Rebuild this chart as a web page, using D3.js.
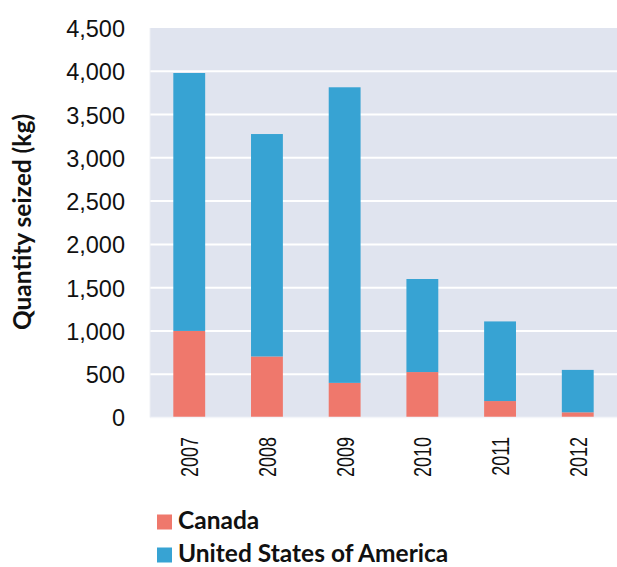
<!DOCTYPE html>
<html>
<head>
<meta charset="utf-8">
<script src="https://cdn.jsdelivr.net/npm/d3@7"></script>
<style>
  html, body { margin: 0; padding: 0; background: #fff; }
  svg { display: block; }
</style>
</head>
<body>
<svg id="chart" width="617" height="567"></svg>
<script>
// Quantity seized (kg) by year, stacked: Canada at the bottom, USA on top
const years = ["2007", "2008", "2009", "2010", "2011", "2012"];
const canada = [1000, 705, 400, 525, 190, 60];
const usa = [2980, 2570, 3415, 1075, 920, 490];
const seriesNames = ["Canada", "United States of America"];
const seriesColors = ["#EF786C", "#37A3D3"];
const yTicks = [0, 500, 1000, 1500, 2000, 2500, 3000, 3500, 4000, 4500];

const svg = d3.select("#chart");
const plot = { left: 150, right: 617, top: 28, bottom: 417.5 };

const x = d3.scaleBand().domain(years).range([plot.left, plot.right]).paddingInner(0.59).paddingOuter(0.3);
const y = d3.scaleLinear().domain([0, 4500]).range([plot.bottom, plot.top]);

// Plot background
svg.append("rect")
  .attr("x", plot.left).attr("y", plot.top)
  .attr("width", plot.right - plot.left).attr("height", plot.bottom - plot.top)
  .attr("fill", "#E0E4EF");

// Horizontal gridlines
svg.append("g")
  .selectAll("line")
  .data(yTicks.filter(d => d > 0 && d < 4500))
  .join("line")
  .attr("x1", plot.left).attr("x2", plot.right)
  .attr("y1", d => y(d)).attr("y2", d => y(d))
  .attr("stroke", "#fff").attr("stroke-width", 2);

// Stacked bars
const rows = years.map((yr, i) => ({ year: yr, Canada: canada[i], "United States of America": usa[i] }));
const stacked = d3.stack().keys(seriesNames)(rows);

svg.append("g")
  .selectAll("g")
  .data(stacked)
  .join("g")
  .attr("fill", (d, i) => seriesColors[i])
  .selectAll("rect")
  .data(d => d)
  .join("rect")
  .attr("x", d => x(d.data.year))
  .attr("width", x.bandwidth())
  .attr("y", d => y(d[1]))
  .attr("height", d => y(d[0]) - y(d[1]));

// Baseline and left edge
svg.append("line")
  .attr("x1", plot.left).attr("x2", plot.right)
  .attr("y1", plot.bottom).attr("y2", plot.bottom)
  .attr("stroke", "#F4F5F9").attr("stroke-width", 1.5);
svg.append("line")
  .attr("x1", plot.left).attr("x2", plot.left)
  .attr("y1", plot.top).attr("y2", plot.bottom)
  .attr("stroke", "#EEF0F5").attr("stroke-width", 1);

// Y axis labels
const yAxis = d3.axisLeft(y).tickValues(yTicks).tickSize(0).tickPadding(0)
  .tickFormat(d3.format(","));
const yg = svg.append("g").attr("transform", `translate(125,0)`).call(yAxis);
yg.select(".domain").remove();
yg.selectAll("text")
  .attr("font-family", "Liberation Sans, Arial, sans-serif")
  .attr("font-size", 23.5)
  .attr("fill", "#111")
  .attr("dy", "0.36em");

// X axis labels, rotated and condensed
const xAxis = d3.axisBottom(x).tickSize(0).tickPadding(0);
const xg = svg.append("g").attr("transform", `translate(0,${plot.bottom})`).call(xAxis);
xg.select(".domain").remove();
xg.selectAll("text")
  .attr("font-family", "Liberation Sans, Arial, sans-serif")
  .attr("font-size", 24)
  .attr("fill", "#111")
  .attr("transform", "rotate(-90) scale(0.75,1)")
  .attr("text-anchor", "end")
  .attr("x", -26)
  .attr("y", 0)
  .attr("dy", "0.38em");

// Y axis title
svg.append("text")
  .attr("transform", "translate(31,222) rotate(-90)")
  .attr("text-anchor", "middle")
  .attr("font-family", "Lato, sans-serif")
  .attr("font-weight", "bold")
  .attr("font-size", 24.5)
  .attr("fill", "#111")
  .text("Quantity seized (kg)");

// Legend
const legend = svg.append("g");
seriesNames.forEach((name, i) => {
  const base = 529 + i * 33;
  legend.append("rect")
    .attr("x", 157).attr("y", base - 14.5)
    .attr("width", 15).attr("height", 15)
    .attr("fill", seriesColors[i]);
  legend.append("text")
    .attr("x", 178).attr("y", base)
    .attr("font-family", "Lato, sans-serif")
    .attr("font-weight", "bold")
    .attr("font-size", 24.5)
    .attr("fill", "#111")
    .text(name);
});
</script>
</body>
</html>
